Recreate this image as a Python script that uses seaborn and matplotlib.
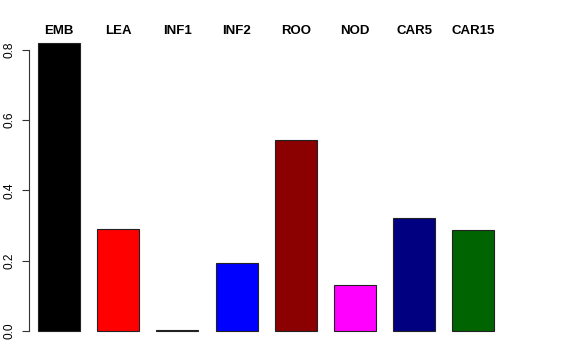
import matplotlib
matplotlib.use("Agg")
import matplotlib.pyplot as plt
import seaborn as sns
import pandas as pd

categories = ["EMB", "LEA", "INF1", "INF2", "ROO", "NOD", "CAR5", "CAR15"]
values = [0.820, 0.290, 0.002, 0.193, 0.544, 0.131, 0.320, 0.288]
colors = ["#000000", "#FF0000", "#006400", "#0000FF", "#8B0000", "#FF00FF", "#000080", "#006400"]
yticks = [0.0, 0.2, 0.4, 0.6, 0.8]

sns.set_style("white")
plt.rcParams["font.family"] = ["Liberation Sans", "DejaVu Sans"]
plt.rcParams["text.color"] = "black"
plt.rcParams["ytick.color"] = "black"

df = pd.DataFrame({"cat": categories, "val": values})

fig = plt.figure(figsize=(5.76, 3.6), dpi=100)
left_px, right_px, top_px, bot_px = 29, 503, 31, 342.5
ax = fig.add_axes([left_px/576, 1 - bot_px/360, (right_px - left_px)/576, (bot_px - top_px)/360])

pitch = 59.2
sns.barplot(data=df, x="cat", y="val", hue="cat", palette=colors, legend=False,
            width=42/pitch, edgecolor="#222222", linewidth=0.8, ax=ax, saturation=1)

ax.set_xlim(-(59 - left_px)/pitch, (right_px - 59)/pitch)
ax.set_ylim(-0.0328, 0.8528)

for s in ["top", "right", "bottom"]:
    ax.spines[s].set_visible(False)
ax.spines["left"].set_bounds(0, 0.8)
ax.spines["left"].set_color("#333333")
ax.spines["left"].set_linewidth(0.8)

ax.set_xticks([])
ax.set_yticks(yticks)
ax.set_yticklabels([f"{t:.1f}" for t in yticks])
ax.tick_params(axis="y", direction="out", length=5, width=0.8, color="#333333",
               labelsize=8.6, labelrotation=90, pad=4.5, left=True, labelcolor="black")
for lab in ax.get_yticklabels():
    lab.set_va("center")
ax.set_xlabel("")
ax.set_ylabel("")

for i, c in enumerate(categories):
    ax.text(i, 0.845, c, ha="center", va="baseline", fontsize=9.5, fontweight="bold",
            color="black", clip_on=False)

fig.savefig("out.png", dpi=100)
